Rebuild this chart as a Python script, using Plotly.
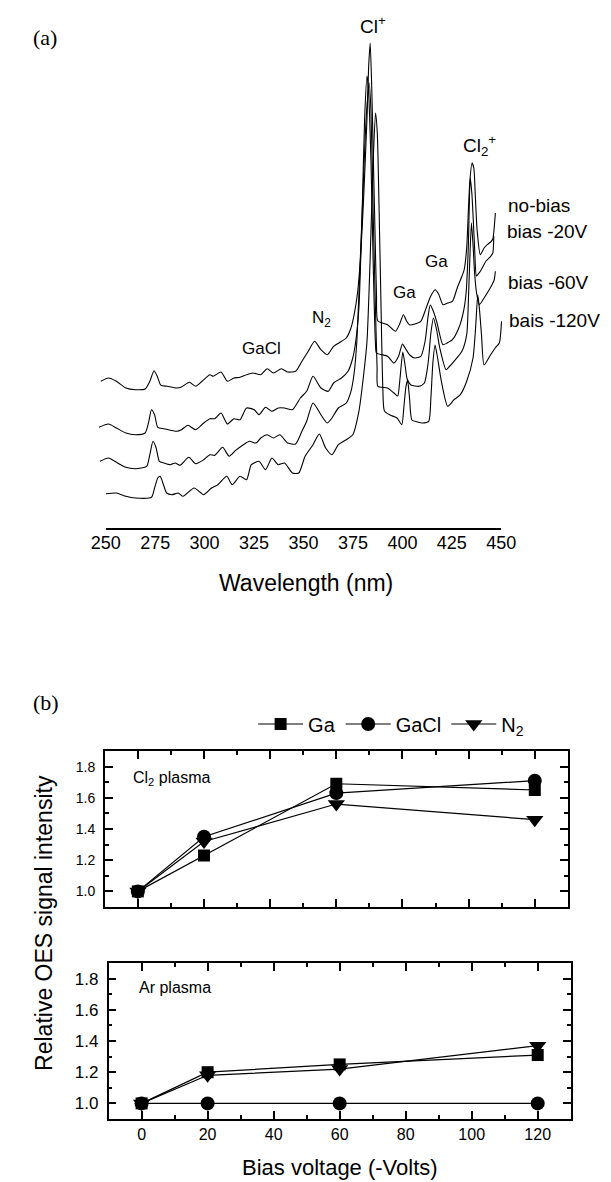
import plotly.graph_objects as go

W, H = 611, 1182

# ---------------- (a) OES spectra (wavelength nm, intensity a.u.) ----------------
wl_nobias = [247.5, 251.4, 255.4, 260.2, 265.0, 269.9, 272.3, 274.4, 276.0, 277.9, 281.1, 285.9, 288.3, 292.3,
             295.5, 298.7, 302.7, 304.3, 308.3, 311.5, 314.8, 317.9, 321.2, 324.4, 328.4, 331.6, 334.8, 338.8,
             342.0, 346.0, 349.2, 352.4, 355.6, 358.8, 362.0, 365.2, 369.2, 371.6, 374.0, 375.6, 377.3, 378.8,
             380.4, 382.1, 382.9, 383.7, 384.5, 385.3, 386.1, 386.9, 387.6, 392.5, 396.5, 398.6, 400.5, 402.1,
             403.7, 406.3, 409.3, 412.0, 414.1, 416.5, 418.3, 420.5, 422.9, 425.3, 427.7, 430.1, 431.2, 432.5,
             433.4, 434.1, 435.2, 436.1, 436.8, 437.8, 439.4, 441.3, 442.9, 444.6, 445.7, 446.4, 447.0]
int_nobias = [146.7, 150, 146.7, 140, 138.3, 139, 146.7, 157.3, 152, 142.7, 141.7, 140, 141, 145.7,
              141.7, 146.7, 153.3, 151.7, 156, 146.7, 150, 150.7, 153.3, 155, 153.3, 159.3, 155, 159.3,
              156, 156.7, 166.7, 176.7, 186.7, 178.3, 173.3, 181.7, 186.7, 190, 200, 213.3, 235, 270,
              330, 410, 460, 485, 440, 370, 300, 233, 207, 203.3, 196.7, 204, 213.3, 207,
              203, 204, 206.7, 220, 231, 238.3, 234, 223.3, 225, 226.7, 240, 251.7, 258, 280,
              320, 347, 365, 360, 335, 297, 273.3, 280, 283.3, 286, 289, 300, 315]

wl_bias20 = [246.6, 251.4, 255.4, 260.2, 265.0, 269.9, 271.8, 273.1, 274.7, 276.3, 279.5, 285.9, 288.3, 291.5,
             295.5, 299.5, 302.7, 305.1, 308.3, 311.5, 314.8, 317.9, 321.2, 325.1, 327.5, 330.8, 334.0, 337.2,
             340.4, 344.4, 348.4, 351.6, 354.8, 358.8, 362.5, 365.2, 369.2, 372.5, 374.9, 376.4, 378.0, 379.7,
             380.9, 382.1, 382.8, 384.1, 385.2, 386.4, 386.9, 392.5, 395.7, 398.1, 400.0, 401.4, 403.7, 406.3,
             409.3, 411.5, 413.0, 414.1, 415.4, 417.3, 420.5, 422.6, 425.3, 428.5, 430.9, 432.2, 433.3, 434.3,
             435.1, 435.7, 436.5, 437.4, 438.1, 439.8, 442.2, 444.6, 445.7, 446.2]
int_bias20 = [100.7, 104, 100, 95, 93.3, 95, 106.7, 118.3, 113.3, 100.7, 99.3, 96.7, 98.3, 102.7,
              98.3, 105, 109.3, 109.3, 115, 104, 109.3, 108.3, 120, 118.3, 113.3, 120.7, 116.7, 120,
              120, 118.3, 130, 136.7, 151.7, 140, 136.7, 145, 150, 156.7, 170, 186.7, 220, 320,
              410, 452, 440, 367, 267, 183, 175, 171.7, 165, 172, 184, 180, 173, 170,
              171.7, 187, 212, 223, 218, 206.7, 183.3, 185, 188.3, 200, 216.7, 235, 280, 350,
              335, 313.3, 280, 252, 253.3, 258, 266.7, 271.7, 275, 292]

wl_bias60 = [247.1, 251.4, 255.4, 260.2, 265.0, 270.7, 272.3, 273.9, 275.5, 277.1, 279.5, 282.7, 285.1, 287.5,
             292.0, 295.5, 299.5, 302.7, 305.1, 309.1, 312.4, 315.5, 319.6, 322.7, 326.0, 328.4, 331.6, 334.8,
             338.0, 342.0, 346.0, 349.2, 351.6, 354.8, 358.8, 362.0, 364.4, 367.6, 371.6, 374.0, 375.6, 376.9,
             378.0, 380.0, 381.6, 383.2, 384.1, 385.2, 386.4, 387.2, 387.6, 392.5, 395.7, 397.6, 398.8, 400.2,
             401.4, 402.4, 404.3, 408.5, 411.1, 413.0, 414.4, 415.7, 417.3, 418.9, 422.1, 424.0, 426.1, 430.1,
             432.5, 433.4, 434.1, 434.9, 435.8, 436.5, 437.5, 438.9, 441.3, 443.8, 445.3, 446.4, 447.0]
int_bias60 = [66.7, 70, 65.7, 60.7, 59.3, 61.7, 73.3, 86.7, 80, 66.7, 65, 63.3, 65, 62.7,
              70.7, 64.3, 68.3, 73.3, 72.7, 80.7, 71.7, 77.3, 83.3, 86.7, 85, 90, 93.3, 90,
              93.3, 85, 84, 96.7, 106.7, 125, 113.3, 105, 110, 120, 125, 136.7, 155, 185,
              233, 333, 407, 445, 417, 317, 217, 160, 141.7, 140, 135, 132, 150, 176,
              162, 149, 143, 141.7, 145, 165, 195, 210, 198, 180, 158.3, 162, 166.7, 176.7,
              193.3, 230, 270, 305, 280, 255, 235, 223.3, 230, 238, 243.3, 248, 256.7]

wl_bias120 = [250.1, 255.4, 260.2, 265.0, 273.1, 274.7, 276.3, 277.5, 279.2, 280.8, 283.5, 286.7, 289.1, 294.7,
              299.5, 303.5, 306.7, 311.2, 313.9, 317.9, 321.2, 323.6, 327.5, 330.8, 334.0, 337.2, 340.4, 344.4,
              347.6, 350.8, 354.8, 358.0, 361.2, 364.4, 367.6, 371.6, 374.9, 378.0, 380.4, 382.1, 383.7, 385.1,
              386.4, 387.3, 388.2, 389.2, 390.1, 390.9, 393.8, 397.3, 399.7, 400.7, 401.7, 402.6, 403.6, 404.8,
              407.7, 410.1, 413.3, 414.4, 415.4, 416.5, 417.8, 419.7, 422.9, 426.1, 429.3, 432.5, 435.7, 437.0,
              438.1, 438.9, 440.0, 441.3, 444.5, 446.9, 449.0, 450.1]
int_bias120 = [34.3, 35, 31.7, 30, 30.7, 40, 50, 51.7, 43.3, 35, 33.3, 35, 31.7, 40,
               33.3, 40, 43.3, 51.7, 43.3, 51.7, 48.3, 63.3, 66.7, 58.3, 70, 63.3, 65, 55,
               55, 71.7, 83.3, 94, 80, 73.3, 83.3, 88.3, 93.3, 116.7, 153.3, 186.7, 270, 360,
               415, 395, 320, 220, 140, 117, 113, 110, 103.3, 120, 140, 148, 130, 108,
               106, 105, 106.7, 130, 165, 183, 170, 146.7, 121.7, 128.3, 133.3, 146.7, 170, 200,
               233, 220, 193, 163, 173, 180, 185, 206.7]

spectra = [
    ("no-bias", wl_nobias, int_nobias),
    ("bias -20V", wl_bias20, int_bias20),
    ("bias -60V", wl_bias60, int_bias60),
    ("bais -120V", wl_bias120, int_bias120),
]
wl_ticks = [250, 275, 300, 325, 350, 375, 400, 425, 450]

# ---------------- (b) relative OES signal intensity ----------------
bias_v = [0, 20, 60, 120]
cl2_ga = [1.0, 1.23, 1.69, 1.65]
cl2_gacl = [1.0, 1.35, 1.63, 1.71]
cl2_n2 = [1.0, 1.32, 1.56, 1.46]
ar_ga = [1.0, 1.20, 1.25, 1.31]
ar_gacl = [1.0, 1.0, 1.0, 1.0]
ar_n2 = [1.0, 1.18, 1.22, 1.37]
series_names = ["Ga", "GaCl", "N<sub>2</sub>"]
series_symbols = ["square", "circle", "triangle-down"]
series_sizes = [12, 14, 15]
bias_ticks = [0, 20, 40, 60, 80, 100, 120]
rel_ticks = [1.0, 1.2, 1.4, 1.6, 1.8]

FONT = "Liberation Sans, Arial, Helvetica, sans-serif"
SERIF = "Liberation Serif, Times New Roman, serif"

fig = go.Figure()

# dummy trace so the labelled wavelength axis exists
fig.add_trace(go.Scatter(x=[None], y=[None], xaxis="x", yaxis="y", showlegend=False, hoverinfo="skip"))
for name, wl, inten in spectra:
    fig.add_trace(go.Scatter(x=wl, y=inten, xaxis="x2", yaxis="y", mode="lines",
                             line=dict(color="black", width=1.1, shape="spline", smoothing=0.6),
                             name=name, showlegend=False))

panel_data = [
    ("x3", "y3", [cl2_ga, cl2_gacl, cl2_n2], True),
    ("x4", "y4", [ar_ga, ar_gacl, ar_n2], False),
]
for xa, ya, vals, show in panel_data:
    for i, v in enumerate(vals):
        fig.add_trace(go.Scatter(x=bias_v, y=v, xaxis=xa, yaxis=ya, mode="lines+markers",
                                 line=dict(color="black", width=1.2),
                                 marker=dict(symbol=series_symbols[i], size=series_sizes[i], color="black"),
                                 name=series_names[i], showlegend=show, cliponaxis=False))

def px_x(p):
    return p / W

def px_y(p):
    return 1 - p / H

# data axis for spectra: 2.08 px per nm, 250 nm at px 87
x2_lo, x2_hi = 244, 456
d2 = [px_x(87 + (x2_lo - 250) * 2.08), px_x(87 + (x2_hi - 250) * 2.08)]

axis_common = dict(showline=True, linecolor="black", linewidth=1.5, ticks="inside", tickcolor="black",
                   tickwidth=1.5, showgrid=False, zeroline=False, mirror="ticks")

P1 = (743, 899)
P2 = (955, 1111)

fig.update_layout(
    width=W, height=H, margin=dict(l=0, r=0, t=0, b=0),
    paper_bgcolor="white", plot_bgcolor="white",
    font=dict(family=FONT, color="black"),
    xaxis=dict(domain=[px_x(87), px_x(503)], range=[250, 450], anchor="y", showline=True, linecolor="black",
               linewidth=1.5, ticks="inside", ticklen=8, tickwidth=1.5, tickcolor="black",
               tickvals=wl_ticks, tickfont=dict(size=18, family=FONT), showgrid=False, zeroline=False,
               ticklabelstandoff=-2,
               minor=dict(ticks="inside", ticklen=4, dtick=12.5, tick0=250, tickwidth=1.5, tickcolor="black")),
    xaxis2=dict(domain=d2, range=[x2_lo, x2_hi], anchor="y", visible=False),
    yaxis=dict(domain=[px_y(520), px_y(20)], range=[0, 500], anchor="x", visible=False),
    xaxis3=dict(domain=[px_x(86), px_x(573)], range=[-10, 130], anchor="y3", showticklabels=False,
                tickvals=bias_ticks, ticklen=8,
                minor=dict(ticks="inside", ticklen=4, dtick=10, tick0=0, tickwidth=1.5, tickcolor="black"),
                **axis_common),
    yaxis3=dict(domain=[px_y(P1[1]), px_y(P1[0])], range=[0.9, 1.9], anchor="x3",
                tickvals=rel_ticks, tickformat=".1f", ticklen=8, ticklabelstandoff=5,
                tickfont=dict(size=14, family=FONT),
                minor=dict(ticks="inside", ticklen=4, dtick=0.1, tick0=0.9, tickwidth=1.5, tickcolor="black"),
                **axis_common),
    xaxis4=dict(domain=[px_x(90), px_x(576)], range=[-10, 130], anchor="y4",
                tickvals=bias_ticks, ticklen=8, ticklabelstandoff=0,
                tickfont=dict(size=16, family=FONT),
                minor=dict(ticks="inside", ticklen=4, dtick=10, tick0=0, tickwidth=1.5, tickcolor="black"),
                **axis_common),
    yaxis4=dict(domain=[px_y(P2[1]), px_y(P2[0])], range=[0.9, 1.9], anchor="x4",
                tickvals=rel_ticks, tickformat=".1f", ticklen=8, ticklabelstandoff=5,
                tickfont=dict(size=17, family=FONT),
                minor=dict(ticks="inside", ticklen=4, dtick=0.1, tick0=0.9, tickwidth=1.5, tickcolor="black"),
                **axis_common),
    legend=dict(orientation="h", x=px_x(242), y=px_y(716), xanchor="left", yanchor="middle",
                font=dict(size=20, family=FONT), bgcolor="rgba(0,0,0,0)", itemwidth=45,
                traceorder="normal"),
    showlegend=True,
)

def label(text, x, y, size, xanchor="center", family=FONT, angle=0):
    fig.add_annotation(text=text, x=px_x(x), y=px_y(y), xref="paper", yref="paper", showarrow=False,
                       xanchor=xanchor, yanchor="middle", textangle=angle,
                       font=dict(size=size, family=family, color="black"))

label("(a)", 8, 30, 22, xanchor="left", family=SERIF)
label("(b)", 8, 694, 22, xanchor="left", family=SERIF)
label("Cl<sup>+</sup>", 368, 17, 19)
label("Cl<sub>2</sub><sup>+</sup>", 480, 137, 19)
label("Ga", 434.5, 253, 17)
label("Ga", 401, 284, 17)
label("N<sub>2</sub>", 314, 311, 17)
label("GaCl", 251, 340, 17)
label("no-bias", 508, 198, 19, xanchor="left")
label("bias -20V", 507, 223, 19, xanchor="left")
label("bias -60V", 508, 275, 19, xanchor="left")
label("bais -120V", 509, 312, 19, xanchor="left")
label("Wavelength (nm)", 298, 575, 23)
label("Cl<sub>2</sub> plasma", 114, 770, 16, xanchor="left")
label("Ar plasma", 120, 979, 16, xanchor="left")
label("Relative OES signal intensity", 22, 915, 23, angle=-90)
label("Bias voltage (-Volts)", 333, 1159, 22)

fig.write_html("out.html")
